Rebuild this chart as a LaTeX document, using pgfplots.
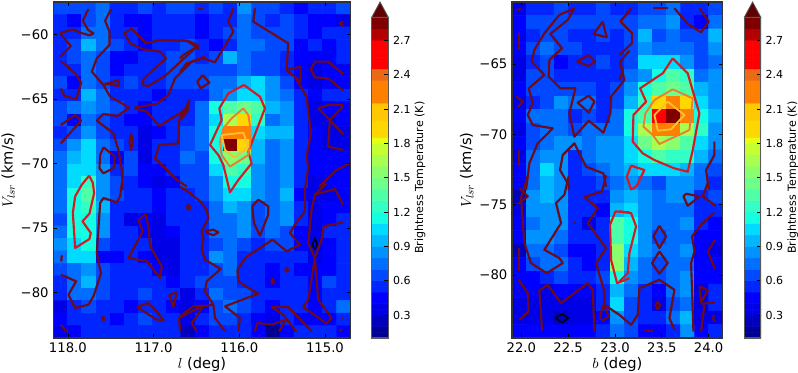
\documentclass[border=0pt]{standalone}
\usepackage{fontspec}
\setmainfont{DejaVu Sans}
\usepackage{pgfplots}
\usepackage{pgfplotstable}
\pgfplotsset{compat=1.18}
\pgfplotsset{colormap={bands}{
rgb255=(0,0,148) rgb255=(0,0,148) rgb255=(0,0,190) rgb255=(0,0,190) rgb255=(0,0,231) rgb255=(0,0,231)
rgb255=(0,0,255) rgb255=(0,0,255) rgb255=(0,37,255) rgb255=(0,37,255) rgb255=(0,73,255) rgb255=(0,73,255)
rgb255=(0,110,255) rgb255=(0,110,255) rgb255=(0,146,255) rgb255=(0,146,255) rgb255=(0,182,255) rgb255=(0,182,255)
rgb255=(0,219,255) rgb255=(0,219,255) rgb255=(20,255,226) rgb255=(20,255,226) rgb255=(50,255,197) rgb255=(50,255,197)
rgb255=(79,255,168) rgb255=(79,255,168) rgb255=(109,255,138) rgb255=(109,255,138) rgb255=(138,255,109) rgb255=(138,255,109)
rgb255=(168,255,79) rgb255=(168,255,79) rgb255=(197,255,50) rgb255=(197,255,50) rgb255=(226,255,20)
rgb255=(255,215,0) rgb255=(255,215,0) rgb255=(255,215,0)
rgb255=(255,200,0) rgb255=(255,200,0) rgb255=(255,200,0)
rgb255=(255,128,0) rgb255=(255,128,0) rgb255=(255,128,0) rgb255=(255,128,0)
rgb255=(235,105,20) rgb255=(235,105,20)
rgb255=(255,0,0) rgb255=(255,0,0) rgb255=(255,0,0) rgb255=(255,0,0) rgb255=(255,0,0)
rgb255=(180,0,0) rgb255=(180,0,0) rgb255=(128,0,0) rgb255=(128,0,0)
}}
\definecolor{cmar}{RGB}{110,10,25}
\definecolor{cred}{RGB}{215,25,35}
\definecolor{cora}{RGB}{235,125,50}
\definecolor{cyel}{RGB}{250,190,50}
\pgfplotsset{Cm/.style={color=cmar,line width=1.6pt,line join=round,forget plot,mark=none},
 Cr/.style={color=cred,line width=1.6pt,line join=round,forget plot,mark=none},
 Co/.style={color=cora,line width=1.4pt,line join=round,forget plot,mark=none},
 Cy/.style={color=cyel,line width=1.4pt,line join=round,forget plot,mark=none},
 Ck/.style={color=black,line width=1.1pt,line join=round,forget plot,mark=none}}
\newcommand{\cl}[4]{\addplot[#1] table[row sep=crcr,header=false,x expr={118-(#2+\thisrowno{0}/3-67.7)/85.8},y expr={-60-(#3+\thisrowno{1}/3-34.7)/12.88}]{#4};}
\newcommand{\cb}[4]{\addplot[#1] table[row sep=crcr,header=false,x expr={22+(#2+\thisrowno{0}/3-522)/93.6},y expr={-65-(#3+\thisrowno{1}/3-64)/14.07}]{#4};}
\pgfplotstableread[row sep=crcr,header=false]{
0.125\\0.125\\0.175\\0.175\\0.225\\0.225\\0.275\\0.275\\0.325\\0.325\\0.375\\0.375\\0.425\\0.425\\0.475\\0.475\\0.525\\0.525\\0.575\\0.575\\
0.625\\0.625\\0.675\\0.675\\0.725\\0.725\\0.775\\0.775\\0.825\\0.825\\0.875\\0.875\\0.925\\0.925\\0.975\\0.975\\1.025\\1.025\\1.075\\1.075\\
1.125\\1.125\\1.175\\1.175\\1.225\\1.225\\1.275\\1.275\\1.325\\1.325\\1.375\\1.375\\1.425\\1.425\\1.475\\1.475\\1.525\\1.525\\1.575\\1.575\\
1.625\\1.625\\1.675\\1.675\\1.725\\1.725\\1.775\\1.775\\1.825\\1.825\\1.875\\1.875\\1.925\\1.925\\1.975\\1.975\\2.025\\2.025\\2.075\\2.075\\
2.125\\2.125\\2.175\\2.175\\2.225\\2.225\\2.275\\2.275\\2.325\\2.325\\2.375\\2.375\\2.425\\2.425\\2.475\\2.475\\2.525\\2.525\\2.575\\2.575\\
2.625\\2.625\\2.675\\2.675\\2.725\\2.725\\2.775\\2.775\\2.825\\2.825\\2.875\\2.875\\
}\cbdata
\pgfplotsset{
 mainax/.style={scale only axis,enlargelimits=false,axis on top,x dir=reverse,tick align=inside,
  major tick length=3pt,tick style={black,line width=.5pt},axis line style={line width=.8pt,black!80},
  ticklabel style={font=\fontsize{9.9pt}{11pt}\selectfont},
  label style={font=\fontsize{11pt}{13pt}\selectfont},xlabel shift=-3.5pt,ylabel shift=-2.5pt,
  point meta min=0.1,point meta max=2.9,colormap name=bands,colormap access=piecewise constant},
 cbarax/.style={scale only axis,width=12.45pt,height=240.5pt,xmin=0,xmax=1,ymin=0.1,ymax=2.9,clip=false,
  axis on top,xtick=\empty,ytick={0.3,0.6,0.9,1.2,1.5,1.8,2.1,2.4,2.7},
  yticklabels={0.3,0.6,0.9,1.2,1.5,1.8,2.1,2.4,2.7},
  ytick pos=right,yticklabel pos=right,tick align=inside,major tick length=3pt,tick style={black,line width=.5pt},
  axis line style={line width=.8pt,black!65},
  ticklabel style={font=\fontsize{8.3pt}{10pt}\selectfont},
  ylabel={Brightness Temperature (K)},ylabel near ticks,ylabel shift=-3.75pt,
  ylabel style={font=\fontsize{8.3pt}{10pt}\selectfont},
  point meta min=0.1,point meta max=2.9,colormap name=bands,colormap access=piecewise constant},
}
\newcommand{\cbarcontent}{
 \addplot[matrix plot*,mesh/cols=2,point meta=explicit,forget plot] table[x expr={0.25+0.5*mod(\coordindex,2)},y index=0,meta index=0]{\cbdata};
 \addplot[fill=cmar!110,draw=black!65,line width=.6pt,forget plot] coordinates {(0,2.9) (0.5,3.034) (1,2.9)} -- cycle;
}
\begin{document}
\begin{tikzpicture}
\path[use as bounding box] (0,0) rectangle (598.5pt,279.75pt);
% ---------- left map
\begin{axis}[mainax,at={(39.98pt,26.25pt)},anchor=south west,width=223.05pt,height=252pt,
 xmin=114.70,xmax=118.17,ymin=-83.55,ymax=-57.46,
 xtick={115,116,117,118},xticklabels={115.0,116.0,117.0,118.0},
 ytick={-80,-75,-70,-65,-60},yticklabels={−80,−75,−70,−65,−60},
 xlabel={$l$ (deg)},ylabel={$V_{lsr}$ (km/s)}]
\addplot[matrix plot*,mesh/cols=21,point meta=explicit,forget plot] table[row sep=crcr,header=false,meta index=0,
 x expr={118.17-0.16524*(mod(\coordindex,21)+0.5)},y expr={-57.46-0.9663*(floor((\coordindex+0.5)/21)+0.5)}]{
.6\\.6\\.65\\.7\\.55\\.5\\.6\\.55\\.6\\.6\\.55\\.6\\.55\\.85\\.6\\.6\\.55\\.45\\.5\\.5\\.6\\
.55\\.45\\.6\\.75\\.5\\.45\\.45\\.5\\.55\\.5\\.4\\.55\\.55\\.75\\.65\\.55\\.65\\.5\\.45\\.45\\.35\\
.55\\.55\\.7\\.7\\.55\\.5\\.45\\.55\\.55\\.55\\.45\\.5\\.6\\.75\\.65\\.6\\.6\\.5\\.45\\.55\\.5\\
.5\\.6\\.95\\.7\\.6\\.5\\.45\\.5\\.55\\.6\\.55\\.45\\.55\\.7\\.7\\.6\\.6\\.45\\.5\\.45\\.5\\
.55\\.6\\.75\\.65\\.45\\.45\\.5\\.55\\.6\\.6\\.55\\.6\\.9\\.75\\.65\\.6\\.55\\.4\\.45\\.45\\.5\\
.5\\.5\\.75\\.65\\.4\\.5\\.55\\.55\\.6\\.6\\.6\\.65\\.6\\.7\\.6\\.6\\.5\\.4\\.3\\.4\\.45\\
.6\\.45\\.75\\.6\\.5\\.6\\.5\\.55\\.65\\.65\\.65\\.75\\.75\\.95\\1.0\\.8\\.65\\.45\\.35\\.4\\.45\\
.55\\.55\\.9\\.7\\.55\\.55\\.5\\.45\\.55\\.55\\.55\\.7\\.85\\1.05\\1.0\\.85\\.75\\.5\\.45\\.5\\.5\\
.65\\.75\\.85\\.75\\.65\\.5\\.45\\.5\\.5\\.5\\.75\\1.1\\1.35\\1.45\\1.3\\.95\\.8\\.55\\.3\\.4\\.45\\
.6\\.45\\.75\\.6\\.5\\.45\\.4\\.5\\.55\\.5\\.75\\1.05\\1.65\\1.9\\1.25\\.7\\.8\\.55\\.35\\.35\\.4\\
.55\\.6\\.8\\.65\\.55\\.5\\.3\\.45\\.5\\.65\\.75\\1.15\\2.2\\2.2\\1.05\\.95\\.95\\.5\\.4\\.35\\.35\\
.65\\.8\\1.05\\.75\\.65\\.55\\.35\\.5\\.55\\.65\\.7\\1.1\\2.85\\1.95\\.95\\.75\\.85\\.55\\.45\\.35\\.35\\
.7\\.95\\1.05\\.7\\.45\\.6\\.35\\.5\\.55\\.7\\.65\\1.1\\1.55\\1.45\\.95\\.7\\.85\\.5\\.45\\.4\\.45\\
.7\\1.05\\1.05\\.8\\.5\\.6\\.45\\.4\\.5\\.65\\.6\\1.05\\1.35\\1.25\\.85\\.75\\.85\\.5\\.4\\.45\\.4\\
.7\\1.05\\1.2\\.85\\.65\\.55\\.45\\.35\\.45\\.6\\.6\\.8\\1.1\\1.1\\.85\\.7\\.85\\.5\\.3\\.4\\.4\\
.75\\1.1\\1.3\\.85\\.6\\.55\\.5\\.45\\.5\\.55\\.6\\.8\\1.05\\1.05\\.85\\.7\\.9\\.45\\.35\\.3\\.4\\
.75\\1.1\\1.2\\.9\\.55\\.55\\.5\\.45\\.5\\.5\\.55\\.75\\.9\\.85\\.65\\.75\\.8\\.5\\.35\\.4\\.4\\
.65\\1.1\\1.15\\.8\\.5\\.3\\.45\\.35\\.5\\.5\\.5\\.7\\.75\\.85\\.6\\.7\\.85\\.5\\.35\\.45\\.5\\
.7\\1.1\\1.15\\.85\\.5\\.5\\.45\\.3\\.45\\.5\\.55\\.75\\.75\\.85\\.6\\.7\\.65\\.45\\.3\\.5\\.5\\
.85\\1.05\\1.1\\.6\\.5\\.55\\.5\\.3\\.35\\.55\\.55\\.65\\.7\\.65\\.5\\.6\\.6\\.45\\.3\\.45\\.55\\
.7\\1.05\\1.0\\.45\\.4\\.5\\.4\\.3\\.3\\.5\\.5\\.8\\.7\\.55\\.5\\.55\\.5\\.5\\.35\\.45\\.5\\
.65\\.75\\.85\\.6\\.5\\.5\\.5\\.4\\.35\\.5\\.5\\.6\\.7\\.55\\.55\\.45\\.55\\.45\\.4\\.45\\.5\\
.55\\.7\\.95\\.65\\.55\\.5\\.5\\.5\\.45\\.55\\.6\\.6\\.6\\.55\\.5\\.4\\.5\\.5\\.4\\.6\\.5\\
.5\\.7\\.75\\.6\\.5\\.5\\.65\\.55\\.5\\.35\\.55\\.7\\.6\\.6\\.5\\.5\\.5\\.5\\.4\\.55\\.55\\
.35\\.5\\.6\\.5\\.5\\.45\\.5\\.55\\.45\\.3\\.45\\.65\\.7\\.6\\.55\\.4\\.5\\.5\\.4\\.55\\.75\\
.4\\.55\\.55\\.5\\.45\\.55\\.65\\.5\\.5\\.3\\.5\\.6\\.6\\.55\\.45\\.35\\.5\\.45\\.45\\.4\\.55\\
.35\\.45\\.55\\.5\\.5\\.55\\.5\\.5\\.5\\.25\\.4\\.5\\.55\\.55\\.45\\.15\\.45\\.5\\.5\\.5\\.45\\
};
% zoom-1 frame
\cl{Cm}{0}{0}{265 27\\248 62\\264 90\\280 100\\268 106\\240 98\\220 88\\182 98\\182 103\\212 138\\180 170\\}
\cl{Cm}{0}{0}{333 27\\315 62\\328 95\\328 135\\290 175\\275 215\\310 255\\330 290\\388 323\\}
\cl{Cm}{0}{0}{310 255\\355 240\\355 258\\315 250\\}
\cl{Cm}{0}{0}{182 183\\225 220\\243 248\\228 298\\192 287\\182 265\\}
\cl{Cm}{0}{0}{182 375\\225 345\\243 362\\182 430\\}
\cl{Cm}{0}{0}{388 323\\352 348\\310 342\\290 362\\340 400\\355 450\\365 510\\368 570\\}
\cl{Cm}{0}{0}{403 323\\470 312\\505 285\\525 235\\575 185\\615 170\\}
\cl{Cm}{0}{0}{403 325\\440 335\\478 378\\562 325\\567 300\\563 325\\537 360\\535 430\\478 435\\465 475\\525 535\\560 560\\}
\cl{Cm}{0}{0}{598 147\\560 122\\480 120\\438 130\\393 85\\373 100\\390 130\\430 148\\480 155\\498 175\\470 200\\430 238\\428 255\\445 258\\495 228\\590 140\\}
\cl{Cm}{0}{0}{393 400\\388 425\\393 450\\398 425\\393 400\\}
\cl{Cm}{0}{0}{310 442\\345 470\\340 505\\310 520\\298 505\\300 465\\310 442\\}
% zoom-3 frame
\cl{Cm}{0}{183}{368 -21\\360 40\\350 58\\310 45\\300 60\\290 210\\300 260\\303 270\\280 340\\265 365\\225 375\\205 335\\228 295\\182 275\\}
\cl{Cr}{0}{183}{267 -22\\245 5\\225 40\\218 90\\225 195\\268 168\\272 150\\247 115\\268 92\\282 30\\278 0\\267 -22\\}
\cl{Cm}{0}{183}{185 217\\183 235\\}
\cl{Cm}{0}{183}{182 425\\200 447\\}
\cl{Cm}{0}{183}{307 400\\313 405\\310 412\\305 405\\307 400\\}
\cl{Cm}{0}{183}{437 92\\415 112\\428 145\\385 225\\440 235\\480 285\\485 250\\450 190\\445 130\\437 92\\}
\cl{Cm}{0}{183}{410 372\\445 360\\470 385\\490 412\\470 410\\410 372\\}
\cl{Cm}{0}{183}{507 335\\530 328\\520 373\\507 335\\}
\cl{Cm}{0}{183}{540 445\\537 405\\600 372\\640 365\\}
% zoom-2 frame
\cl{Cm}{180}{0}{0 120\\30 125\\55 137\\10 165\\0 175\\}
\cl{Cm}{180}{0}{0 215\\20 190\\70 175\\105 187\\145 120\\160 95\\145 65\\160 25\\}
\cl{Cm}{180}{0}{375 570\\385 500\\380 470\\393 400\\380 290\\345 230\\320 210\\325 130\\220 65\\225 25\\}
\cl{Cm}{180}{0}{320 210\\362 200\\362 245\\320 210\\}
\cl{Cm}{180}{0}{55 27\\70 27\\}
\cl{Cm}{180}{0}{490 65\\480 70\\490 80\\}
\cl{Cm}{180}{0}{490 222\\445 185\\405 185\\393 208\\405 232\\445 235\\490 272\\}
\cl{Cm}{180}{0}{490 315\\445 315\\415 325\\450 360\\490 403\\}
\cl{Cm}{180}{0}{490 318\\450 360\\445 440\\490 450\\}
\cl{Cm}{180}{0}{68 225\\88 248\\62 265\\52 245\\68 225\\}
\cl{Cm}{180}{0}{0 348\\20 320\\28 300\\22 335\\0 360\\}
\cl{Cm}{180}{0}{418 560\\470 510\\510 490\\}
\cl{Cr}{180}{0}{192 255\\240 290\\255 325\\205 455\\215 490\\175 540\\150 577\\130 495\\115 465\\90 435\\125 360\\118 325\\145 280\\192 255\\}
\cl{Co}{180}{0}{190 325\\205 345\\213 395\\210 430\\205 465\\150 500\\125 465\\120 425\\130 385\\155 355\\190 325\\}
\cl{Cy}{180}{0}{125 405\\190 398\\205 440\\165 473\\135 450\\125 405\\}
% zoom-4 frame
\cl{Cm}{180}{183}{0 11\\30 30\\60 55\\80 80\\85 105\\65 145\\70 165\\65 200\\75 230\\122 258\\80 295\\75 325\\100 365\\105 405\\135 445\\}
\cl{Cm}{180}{183}{0 400\\40 370\\70 368\\50 400\\35 420\\50 445\\}
\cl{Cm}{180}{183}{20 72\\25 65\\32 72\\25 80\\20 72\\}
\cl{Cm}{180}{183}{75 145\\100 140\\115 148\\100 157\\75 147\\}
\cl{Cm}{180}{183}{235 50\\265 70\\265 95\\240 158\\222 120\\217 70\\235 50\\}
\cl{Cm}{180}{183}{175 445\\180 405\\135 370\\235 332\\205 315\\175 295\\172 262\\195 225\\278 170\\320 205\\360 185\\330 150\\345 125\\375 85\\375 21\\}
\cl{Cm}{180}{183}{225 445\\232 420\\275 425\\318 410\\298 445\\}
\cl{Cm}{180}{183}{395 445\\325 372\\275 372\\310 395\\350 447\\}
\cl{Cm}{180}{183}{405 225\\385 350\\370 372\\440 422\\455 405\\415 350\\405 225\\}
\cl{Cm}{180}{183}{405 225\\385 180\\395 80\\405 35\\440 0\\}
\cl{Cm}{180}{183}{405 225\\425 170\\432 130\\490 118\\}
\cl{Cm}{180}{183}{405 35\\465 18\\490 65\\}
\cl{Ck}{180}{183}{405 165\\412 185\\405 198\\397 185\\405 165\\}
\cl{Cm}{180}{183}{316 260\\320 255\\325 260\\320 266\\316 260\\}
\cl{Cm}{180}{183}{274 295\\278 288\\282 295\\278 302\\274 295\\}
\cl{Cm}{180}{183}{486 408\\490 408\\}
\cl{Cm}{180}{183}{478 445\\488 438\\}
\end{axis}
% ---------- left colour bar
\begin{axis}[cbarax,at={(278.8pt,26.25pt)},anchor=south west]
\cbarcontent
\end{axis}
% ---------- right map
\begin{axis}[mainax,at={(384pt,26.25pt)},anchor=south west,width=158pt,height=252pt,x dir=normal,
 xmin=21.9,xmax=24.15,ymin=-84.46,ymax=-60.6,
 xtick={22,22.5,23,23.5,24},xticklabels={22.0,22.5,23.0,23.5,24.0},
 ytick={-80,-75,-70,-65},yticklabels={−80,−75,−70,−65},
 xlabel={$b$ (deg)},ylabel={$V_{lsr}$ (km/s)}]
\addplot[matrix plot*,mesh/cols=15,point meta=explicit,forget plot] table[row sep=crcr,header=false,meta index=0,
 x expr={21.9+0.15*(mod(\coordindex,15)+0.5)},y expr={-60.6-0.9544*(floor((\coordindex+0.5)/15)+0.5)}]{
.3\\.55\\.55\\.65\\.55\\.5\\.6\\.5\\.5\\.6\\.6\\.75\\.5\\.5\\.65\\
.45\\.65\\.6\\.65\\.6\\.6\\.65\\.6\\.6\\.7\\.75\\.8\\.55\\.45\\.7\\
.45\\.55\\.6\\.65\\.55\\.55\\.6\\.55\\.6\\.9\\.6\\.7\\.65\\.6\\.95\\
.4\\.6\\.7\\.65\\.6\\.55\\.5\\.55\\.65\\.8\\.75\\.75\\.75\\.65\\.8\\
.35\\.55\\.65\\.45\\.5\\.5\\.6\\.55\\.6\\1.0\\1.0\\1.05\\.85\\.6\\.75\\
.35\\.6\\.65\\.5\\.5\\.5\\.55\\.5\\.75\\.85\\1.1\\1.4\\1.2\\.75\\.8\\
.45\\.6\\.65\\.65\\.6\\.6\\.55\\.65\\.85\\1.15\\1.35\\1.45\\1.3\\.95\\.85\\
.3\\.55\\.65\\.8\\.7\\.7\\.5\\.65\\.95\\1.25\\1.95\\2.2\\1.9\\1.05\\.85\\
.45\\.75\\.75\\.75\\.5\\.6\\.5\\.7\\1.1\\1.35\\2.55\\2.85\\2.2\\1.15\\.9\\
.35\\.6\\.75\\.7\\.65\\.75\\.7\\.7\\1.15\\1.7\\2.2\\2.3\\1.65\\1.2\\.85\\
.4\\.65\\.75\\.8\\.8\\.7\\.8\\.85\\1.05\\1.45\\1.65\\1.6\\1.4\\1.05\\.85\\
.35\\.7\\.8\\.85\\.5\\.75\\.8\\.85\\1.05\\1.1\\1.3\\1.25\\1.25\\.95\\.75\\
.4\\.7\\1.05\\.85\\.5\\.6\\.75\\.8\\.95\\1.0\\1.05\\1.05\\.95\\.7\\.65\\
.4\\.75\\.95\\.85\\.55\\.55\\.6\\.75\\.85\\.75\\.65\\.8\\.85\\.7\\.5\\
.25\\.85\\.9\\.8\\.5\\.55\\.55\\.8\\.95\\.85\\.75\\.8\\.85\\.55\\.6\\
.3\\.85\\.85\\.85\\.55\\.5\\.4\\.9\\1.05\\.85\\.75\\.7\\.75\\.55\\.5\\
.4\\.75\\.85\\.8\\.55\\.3\\.5\\1.3\\1.15\\.85\\.7\\.7\\.8\\.5\\.45\\
.4\\.8\\.85\\.75\\.55\\.5\\.5\\1.35\\1.1\\.85\\.6\\.75\\.75\\.45\\.4\\
.25\\.7\\.75\\.6\\.45\\.45\\.5\\1.6\\1.0\\.8\\.7\\.75\\.8\\.4\\.3\\
.4\\.6\\.7\\.75\\.5\\.45\\.5\\1.6\\.9\\.75\\.6\\.75\\.75\\.45\\.45\\
.4\\.45\\.5\\.6\\.5\\.5\\.6\\1.15\\.8\\.75\\.6\\.75\\.8\\.45\\.45\\
.4\\.45\\.3\\.4\\.4\\.4\\.55\\.9\\.7\\.5\\.45\\.7\\.8\\.35\\.5\\
.3\\.35\\.3\\.35\\.3\\.3\\.5\\1.0\\.6\\.5\\.3\\.6\\.75\\.35\\.55\\
.3\\.35\\.3\\.25\\.3\\.3\\.4\\.85\\.6\\.55\\.5\\.7\\.9\\.35\\.3\\
.45\\.45\\.45\\.45\\.45\\.45\\.5\\.7\\.65\\.45\\.4\\.5\\.8\\.45\\.5\\
};
% zoom-5 frame
\cb{Cm}{450}{0}{210 100\\210 150\\}
\cb{Cm}{450}{0}{200 290\\220 305\\205 322\\}
\cb{Cm}{450}{0}{210 450\\210 498\\}
\cb{Cm}{450}{0}{205 32\\215 25\\}
\cb{Cm}{450}{0}{375 25\\330 45\\285 100\\255 150\\247 185\\285 225\\238 265\\250 310\\235 345\\250 375\\310 385\\265 430\\240 490\\230 570\\}
\cb{Cm}{450}{0}{375 25\\355 60\\303 102\\338 145\\300 180\\298 230\\333 265\\378 265\\360 340\\375 410\\418 362\\462 398\\483 340\\485 290\\525 240\\512 185\\540 152\\}
\cb{Cm}{450}{0}{460 65\\472 112\\433 102\\460 65\\}
\cb{Cm}{450}{0}{418 165\\437 185\\418 198\\383 185\\418 165\\}
\cb{Cm}{450}{0}{418 287\\435 305\\418 338\\385 308\\418 287\\}
\cb{Cm}{450}{0}{358 570\\358 555\\332 510\\340 465\\375 430\\410 500\\462 520\\470 560\\}
\cb{Cm}{450}{0}{513 63\\540 35\\}
% zoom-7 frame
\cb{Cm}{450}{183}{358 -21\\345 35\\320 60\\335 120\\285 200\\330 225\\340 240\\292 270\\245 240\\225 180\\215 45\\235 -21\\}
\cb{Cm}{450}{183}{470 -23\\458 25\\405 42\\445 75\\415 120\\470 195\\440 240\\465 325\\465 365\\510 395\\}
\cb{Cm}{450}{183}{460 365\\480 400\\460 412\\452 405\\460 365\\}
\cb{Cm}{450}{183}{210 15\\235 40\\207 62\\}
\cb{Cm}{450}{183}{210 195\\210 265\\}
\cb{Cm}{450}{183}{208 290\\235 330\\238 385\\210 410\\}
\cb{Cm}{450}{183}{208 322\\211 325\\}
\cb{Cm}{450}{183}{278 442\\270 322\\295 305\\335 360\\415 300\\430 320\\435 445\\}
\cb{Ck}{450}{183}{338 392\\357 405\\338 418\\318 405\\338 392\\}
\cb{Cm}{450}{183}{375 120\\379 120\\}
\cb{Cr}{450}{183}{540 88\\498 85\\482 125\\485 230\\503 300\\540 285\\}
% zoom-6 frame
\cb{Cm}{620}{0}{38 130\\38 100\\3 65\\35 25\\}
\cb{Cm}{620}{0}{0 165\\38 130\\}
\cb{Cm}{620}{0}{0 190\\10 210\\0 240\\}
\cb{Cm}{620}{0}{100 25\\145 25\\}
\cb{Cm}{620}{0}{165 25\\205 72\\245 97\\268 65\\240 25\\}
\cb{Cm}{620}{0}{285 425\\285 465\\260 510\\268 570\\}
\cb{Cr}{620}{0}{160 175\\130 220\\62 265\\80 305\\42 345\\40 425\\70 460\\105 480\\165 505\\205 515\\220 450\\240 340\\225 290\\205 220\\160 175\\}
\cb{Co}{620}{0}{160 268\\220 295\\210 390\\120 432\\100 405\\72 380\\78 340\\105 300\\160 268\\}
\cb{Cy}{620}{0}{145 305\\195 345\\155 388\\115 392\\105 345\\145 305\\}
\cb{Cr}{620}{0}{35 497\\75 510\\50 560\\35 568\\22 530\\35 497\\}
% zoom-8 frame
\cb{Cm}{620}{183}{0 395\\35 425\\55 395\\60 315\\120 290\\165 320\\150 405\\165 440\\}
\cb{Cr}{620}{183}{0 85\\35 90\\50 130\\30 210\\25 270\\0 295\\}
\cb{Cm}{620}{183}{285 88\\245 125\\218 160\\225 205\\215 240\\222 445\\}
\cb{Cm}{620}{183}{265 0\\250 40\\288 68\\}
\cb{Cm}{620}{183}{200 32\\240 40\\205 68\\192 40\\200 32\\}
\cb{Cm}{620}{183}{120 128\\140 160\\120 195\\102 160\\120 128\\}
\cb{Cm}{620}{183}{120 205\\145 240\\120 272\\98 240\\120 205\\}
\cb{Cm}{620}{183}{287 170\\265 205\\287 258\\}
\cb{Cm}{620}{183}{242 310\\265 322\\245 358\\240 310\\}
\cb{Cm}{620}{183}{245 362\\287 358\\}
\cb{Cm}{620}{183}{255 365\\245 445\\}
\cb{Cm}{620}{183}{115 355\\122 367\\115 378\\108 367\\115 355\\}
\cb{Cm}{620}{183}{75 442\\100 443\\}
\cb{Cm}{620}{183}{285 395\\280 405\\287 415\\}
\end{axis}
% ---------- right colour bar
\begin{axis}[cbarax,at={(558.2pt,26.25pt)},anchor=south west]
\cbarcontent
\end{axis}
\end{tikzpicture}
\end{document}
